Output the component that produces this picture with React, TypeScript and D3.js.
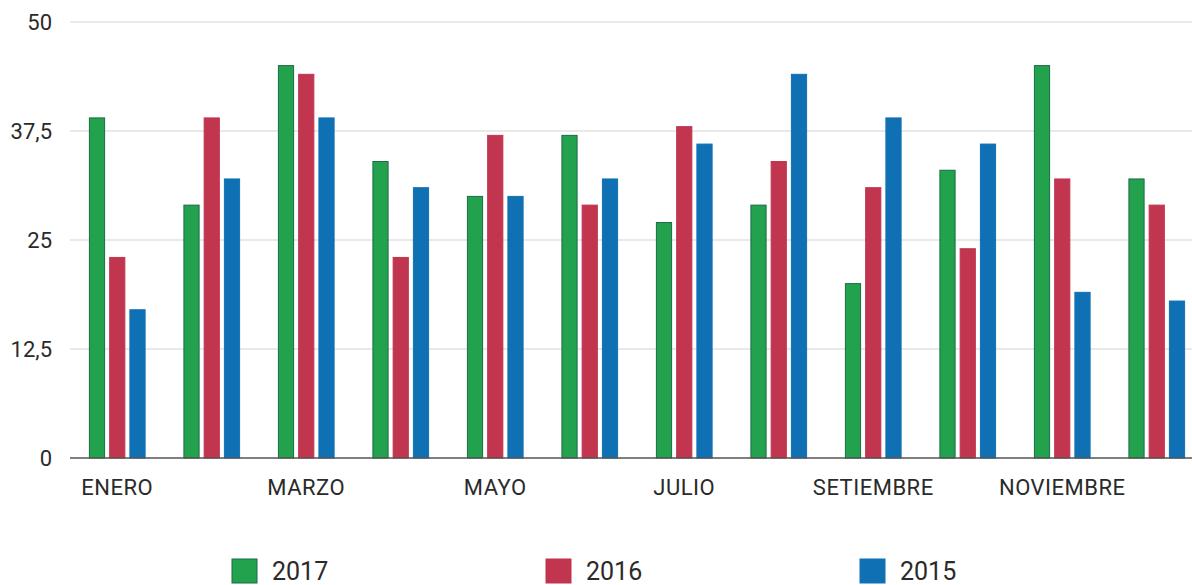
import React from 'react'
import * as d3 from 'd3'

const months = ['ENERO', 'FEBRERO', 'MARZO', 'ABRIL', 'MAYO', 'JUNIO', 'JULIO', 'AGOSTO', 'SETIEMBRE', 'OCTUBRE', 'NOVIEMBRE', 'DICIEMBRE']
const shownLabels = ['ENERO', 'MARZO', 'MAYO', 'JULIO', 'SETIEMBRE', 'NOVIEMBRE']
const seriesNames = ['2017', '2016', '2015']
const values2017 = [39, 29, 45, 34, 30, 37, 27, 29, 20, 33, 45, 32]
const values2016 = [23, 39, 44, 23, 37, 29, 38, 34, 31, 24, 32, 29]
const values2015 = [17, 32, 39, 31, 30, 32, 36, 44, 39, 36, 19, 18]
const yTicks = [0, 12.5, 25, 37.5, 50]

const colors: Record<string, string> = { '2017': '#23a24d', '2016': '#c1354f', '2015': '#1070b4' }
const strokes: Record<string, string> = { '2017': '#1d6a48', '2016': '#c1354f', '2015': '#1070b4' }

export default function App() {
  const width = 1192
  const height = 585
  const margin = { top: 22, right: -12, bottom: 127, left: 70 }
  const plotBottom = height - margin.bottom

  const series = [values2017, values2016, values2015]

  const x = d3.scaleBand<string>()
    .domain(months)
    .range([margin.left, width - margin.right])
    .paddingInner(0.4)
    .paddingOuter(0.2)

  const x1 = d3.scaleBand<string>()
    .domain(seriesNames)
    .range([0, x.bandwidth()])
    .paddingInner(0.2)

  const y = d3.scaleLinear().domain([0, 50]).range([plotBottom, margin.top])

  const fmt = (v: number) => String(v).replace('.', ',')

  const legendX = d3.scalePoint<string>().domain(seriesNames).range([232, 860])

  return (
    <div style={{ position: 'absolute', left: 0, top: 0 }}>
      <svg width={width} height={height} style={{ display: 'block', background: '#fff' }}
        fontFamily="Roboto, 'DejaVu Sans', sans-serif">
        {yTicks.map(t => (
          <g key={t}>
            {t !== 0 && (
              <line x1={margin.left} x2={width} y1={y(t)} y2={y(t)} stroke="#e2e2e2" strokeWidth={1.5} />
            )}
            <text x={52} y={y(t)} dy="0.35em" textAnchor="end" fontSize={22} fill="#2a2a2a">{fmt(t)}</text>
          </g>
        ))}
        {months.map((m, i) => (
          <g key={m} transform={`translate(${x(m)},0)`}>
            {seriesNames.map((s, j) => {
              const v = series[j][i]
              return (
                <rect key={s}
                  x={(x1(s) as number) + 0.5}
                  y={y(v)}
                  width={x1.bandwidth() - 1}
                  height={plotBottom - y(v)}
                  fill={colors[s]}
                  stroke={strokes[s]}
                  strokeWidth={1} />
              )
            })}
          </g>
        ))}
        <line x1={margin.left} x2={width} y1={plotBottom} y2={plotBottom} stroke="#555" strokeWidth={1.5} />
        {shownLabels.map(m => (
          <text key={m} x={(x(m) as number) + x.bandwidth() / 2} y={plotBottom + 37} textAnchor="middle"
            fontSize={22} fill="#2a2a2a" letterSpacing={0.5}>{m}</text>
        ))}
        {seriesNames.map(s => (
          <g key={s} transform={`translate(${legendX(s)},559)`}>
            <rect x={0} y={0} width={25} height={24} fill={colors[s]} stroke={strokes[s]} strokeWidth={1} />
            <text x={40} y={12} dy="0.36em" fontSize={25} fill="#2a2a2a">{s}</text>
          </g>
        ))}
      </svg>
    </div>
  )
}
